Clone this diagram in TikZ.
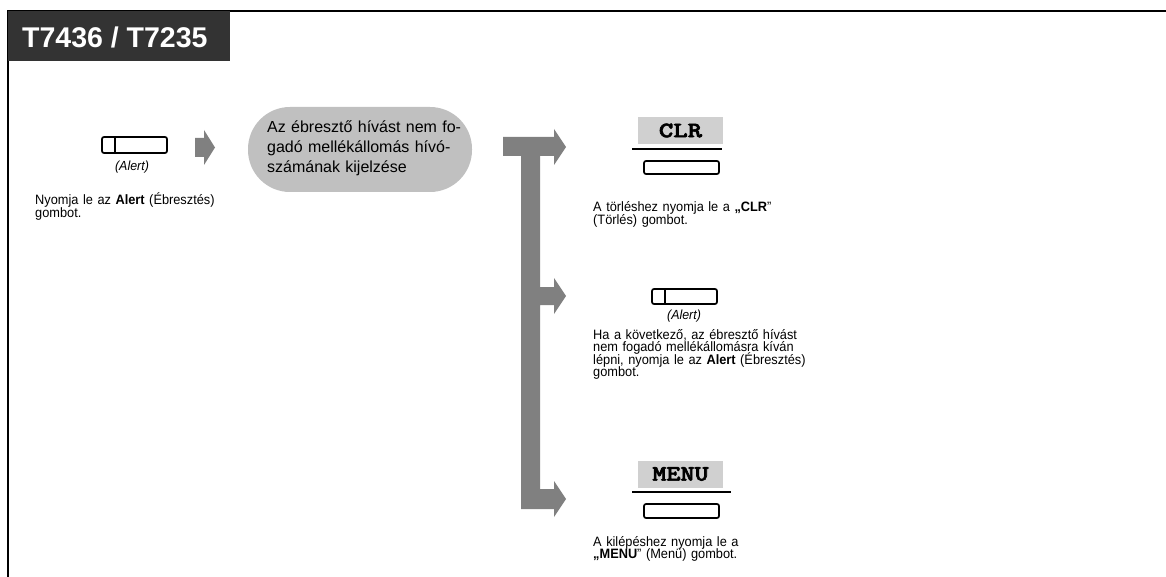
\documentclass[tikz,border=0pt]{standalone}
\usepackage{fontspec}
\setmainfont{Liberation Sans}
\newfontfamily\descfont[FakeStretch=0.94]{Liberation Sans}
\newfontfamily\keymono[FakeBold=2.5]{lmmonolt10-bold.otf}
\newcommand\fixedlines{\lineskiplimit-20pt\relax}
\definecolor{headbg}{HTML}{333333}
\definecolor{arrowgray}{HTML}{808080}
\definecolor{boxgray}{HTML}{C0C0C0}
\definecolor{labelgray}{HTML}{D0D0D0}
\tikzset{
  keybox/.style={draw=black, line width=1.7pt, rounded corners=2pt},
  desc/.style={anchor=base west, inner sep=0pt, text width=260pt, align=left,
    font={\descfont\fontsize{13.6}{12.4}\selectfont\fixedlines}},
  alertlbl/.style={inner sep=0pt, font={\descfont\fontsize{13.2}{13}\selectfont\itshape}},
  keylabel/.style={fill=labelgray, inner sep=0pt, minimum width=85pt, minimum height=27pt,
    font={\fontsize{22}{24}\selectfont\keymono}},
  flowarrow/.style={fill=arrowgray, draw=none},
}
\begin{document}
\begin{tikzpicture}[x=1pt,y=-1pt]
\useasboundingbox[fill=white] (0,0) rectangle (1166,577);
% frame
\draw[line width=2.5pt] (1166,11) -- (8,11) -- (8,577);
\fill[headbg] (8,11) rectangle (230,61);
\node[anchor=base west, inner sep=0pt, text=white, font=\fontsize{28.5}{30}\selectfont\bfseries] (title) at (22,47.5) {T7436 / T7235};

% left Alert key
\draw[keybox] (102,137) rectangle (167,153);
\coordinate (ka) at (115,137);
\draw[line width=1.4pt] (ka) -- ++(0,16);
\node[alertlbl] (al1) at (132,167) {(Alert)};
\node[desc] (t1) at (35,205) {Nyomja le az \textbf{Alert} (Ébresztés)\\gombot.};

% small arrow
\fill[flowarrow] (195,138) -- (204,138) -- (204,130) -- (215,147.5) -- (204,165) -- (204,157) -- (195,157) -- cycle;

% rounded box
\node[fill=boxgray, rounded corners=42pt, minimum width=224pt, minimum height=85pt, inner sep=0pt] (disp) at (360,149.5) {};
\node[anchor=base west, inner sep=0pt, text width=220pt, align=left, font={\fontsize{16}{20}\selectfont\fixedlines}] (disptxt) at (267,133) {Az ébresztő hívást nem fo-\\gadó mellékállomás hívó-\\számának kijelzése};

% T-branch arrow
\fill[flowarrow] (503,137) -- (554,137) -- (554,129) -- (566,147) -- (554,165) -- (554,156)
  -- (540,156) -- (540,287) -- (554,287) -- (554,278) -- (566,296) -- (554,314) -- (554,305)
  -- (540,305) -- (540,489) -- (554,489) -- (554,481) -- (566,499) -- (554,517) -- (554,509)
  -- (521,509) -- (521,156) -- (503,156) -- cycle;

% CLR
\node[keylabel] (clrl) at (680.5,130.5) {\scalebox{1.25}[1]{CLR}};
\draw[line width=1.2pt] (632,149) -- (722,149);
\draw[keybox] (644,161) rectangle (719,174);
\node[desc] (t2) at (593,212) {A törléshez nyomja le a \textbf{„CLR}”\\(Törlés) gombot.};

% middle Alert key
\draw[keybox] (652,289) rectangle (717,304);
\draw[line width=1.4pt] (665,289) -- (665,304);
\node[alertlbl] (al2) at (684,316) {(Alert)};
\node[desc] (t3) at (593,339.5) {Ha a következő, az ébresztő hívást\\nem fogadó mellékállomásra kíván\\lépni, nyomja le az \textbf{Alert} (Ébresztés)\\gombot.};

% MENU
\node[keylabel] (menul) at (680.5,474) {\scalebox{1.22}[1]{MENU}};
\draw[line width=1.2pt] (632,492) -- (731,492);
\draw[keybox] (644,504) rectangle (719,518);
\node[desc] (t4) at (593,546) {A kilépéshez nyomja le a\\\textbf{„MENU}” (Menü) gombot.};
\end{tikzpicture}
\end{document}
